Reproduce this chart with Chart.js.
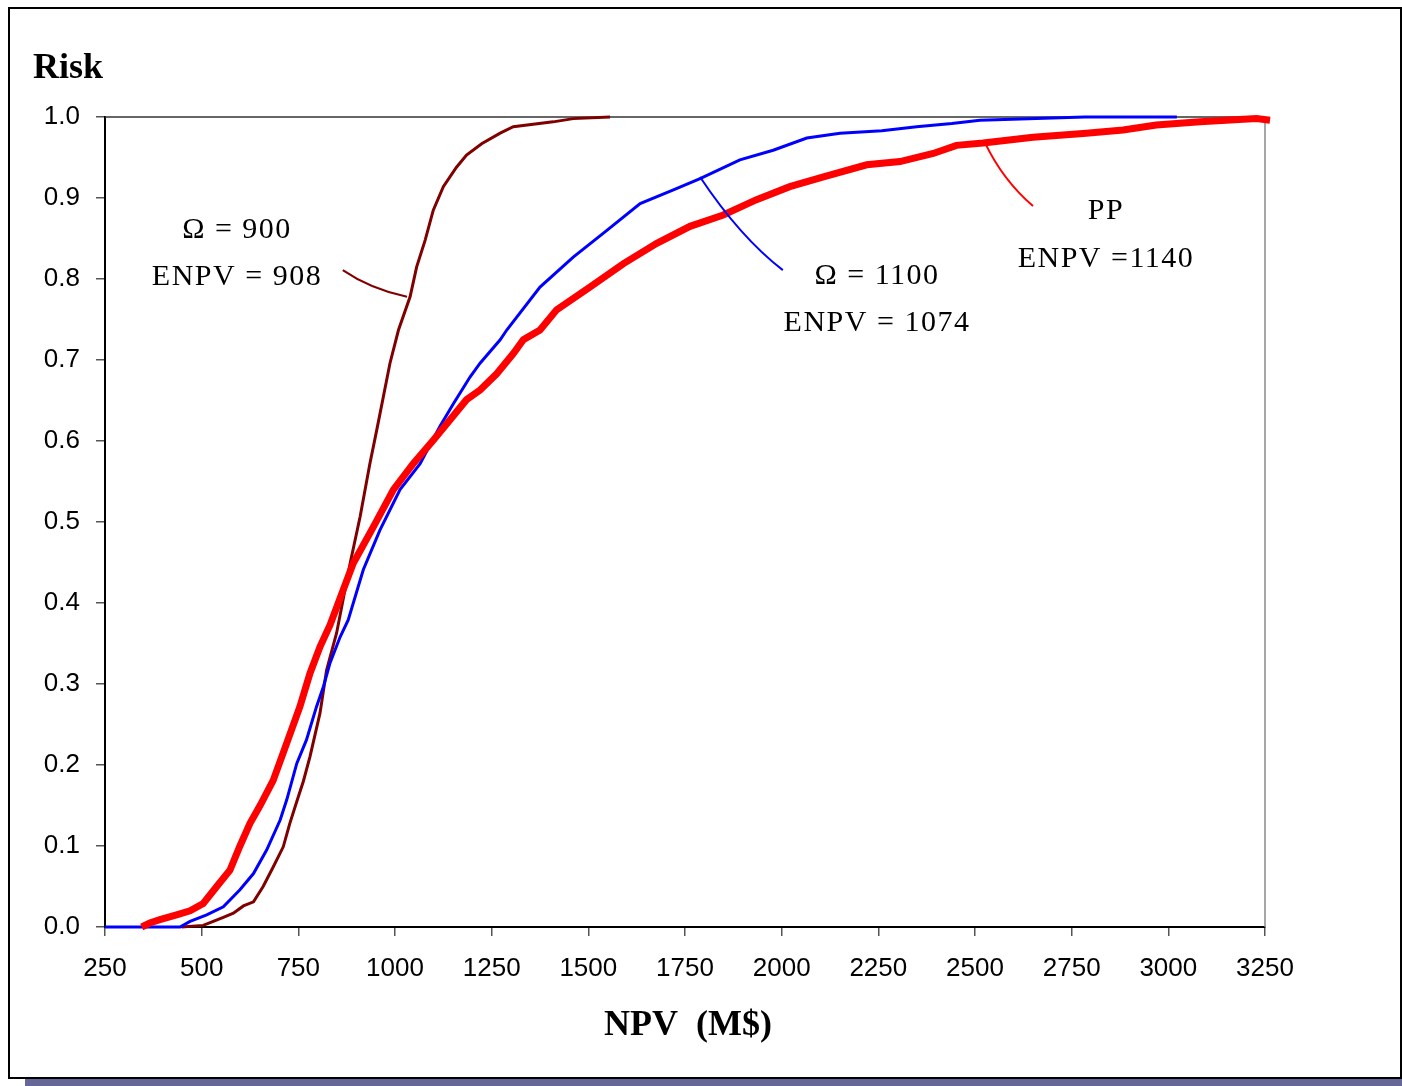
<!DOCTYPE html>
<html>
<head>
<meta charset="utf-8">
<script src="https://cdn.jsdelivr.net/npm/chart.js@4.4.1/dist/chart.umd.min.js"></script>
<style>
  body { margin: 0; background: #fff; }
  #wrap { position: relative; width: 1402px; height: 1086px; overflow: hidden; }
  #frame { position: absolute; left: 8px; top: 7px; width: 1390px; height: 1068px; border: 2px solid #000; pointer-events: none; }
  #shadow { position: absolute; left: 25px; top: 1079px; width: 1377px; height: 7px; background: #666699; }
</style>
</head>
<body>
<div id="wrap">
  <canvas id="riskChart" width="1402" height="1086"></canvas>
  <div id="frame"></div>
  <div id="shadow"></div>
</div>
<script>
// Eixo X (NPV) e eixo Y (risco)
const xTicks = [250, 500, 750, 1000, 1250, 1500, 1750, 2000, 2250, 2500, 2750, 3000, 3250];
const yTicks = [0.0, 0.1, 0.2, 0.3, 0.4, 0.5, 0.6, 0.7, 0.8, 0.9, 1.0];

// Curva Omega = 900 (vinho)
const omega900Npv  = [448, 504, 530, 556, 582, 608, 634, 659, 685, 711, 728, 746, 763, 780, 806, 823, 849, 884, 910, 935, 953, 970, 987, 1009, 1039, 1056, 1078, 1099, 1125, 1159, 1185, 1224, 1272, 1306, 1409, 1461, 1556];
const omega900Risk = [0, 0.002, 0.007, 0.012, 0.017, 0.026, 0.031, 0.05, 0.074, 0.099, 0.128, 0.155, 0.18, 0.21, 0.264, 0.317, 0.363, 0.449, 0.507, 0.572, 0.614, 0.655, 0.696, 0.737, 0.778, 0.815, 0.848, 0.885, 0.914, 0.938, 0.953, 0.967, 0.98, 0.988, 0.994, 0.998, 1.0];

// Curva Omega = 1100 (azul)
const omega1100Npv  = [250, 444, 470, 513, 556, 599, 634, 668, 703, 720, 746, 771, 797, 815, 832, 858, 879, 918, 961, 1013, 1065, 1116, 1151, 1194, 1220, 1272, 1289, 1375, 1461, 1548, 1634, 1720, 1789, 1892, 1978, 2065, 2151, 2259, 2349, 2440, 2513, 2784, 3022];
const omega1100Risk = [0, 0, 0.007, 0.015, 0.025, 0.046, 0.066, 0.095, 0.132, 0.157, 0.202, 0.231, 0.272, 0.297, 0.326, 0.358, 0.379, 0.441, 0.49, 0.54, 0.572, 0.618, 0.646, 0.679, 0.696, 0.725, 0.737, 0.79, 0.827, 0.86, 0.893, 0.91, 0.924, 0.947, 0.959, 0.974, 0.98, 0.983, 0.988, 0.992, 0.996, 1.0, 1.0];

// Curva PP (vermelho)
const ppNpv  = [345, 366, 392, 435, 470, 504, 539, 573, 599, 625, 651, 685, 720, 754, 780, 806, 832, 892, 944, 996, 1047, 1099, 1142, 1185, 1220, 1263, 1306, 1332, 1375, 1418, 1504, 1591, 1677, 1763, 1849, 1935, 2021, 2108, 2220, 2306, 2392, 2452, 2521, 2650, 2788, 2883, 2969, 3082, 3228, 3263];
const ppRisk = [0, 0.005, 0.009, 0.015, 0.02, 0.029, 0.05, 0.07, 0.1, 0.128, 0.15, 0.181, 0.227, 0.272, 0.313, 0.346, 0.373, 0.449, 0.494, 0.54, 0.572, 0.601, 0.626, 0.651, 0.663, 0.683, 0.708, 0.725, 0.737, 0.762, 0.79, 0.819, 0.844, 0.865, 0.879, 0.898, 0.914, 0.926, 0.941, 0.945, 0.955, 0.965, 0.968, 0.975, 0.98, 0.984, 0.99, 0.994, 0.998, 0.996];

// Rótulos e linhas de chamada (em coordenadas de dados)
const labels900  = ['\u03A9 = 900', 'ENPV = 908'];
const labels1100 = ['\u03A9 = 1100', 'ENPV = 1074'];
const labelsPP   = ['PP', 'ENPV =1140'];
const leader900  = [[865, 0.811], [935, 0.788], [1031, 0.778]];
const leader1100 = [[1789, 0.926], [1892, 0.852], [2003, 0.811]];
const leaderPP   = [[2526, 0.968], [2572, 0.922], [2650, 0.890]];

function toPoints(xs, ys) {
  return xs.map((x, i) => ({ x: x, y: ys[i] }));
}

const serif = '"Liberation Serif", "Times New Roman", serif';
const sans = '"Liberation Sans", Arial, sans-serif';

// Plugin para moldura, textos e chamadas
const decorPlugin = {
  id: 'decor',
  beforeDraw(chart) {
    const c = chart.ctx;
    c.save();
    c.fillStyle = '#fff';
    c.fillRect(0, 0, chart.width, chart.height);
    c.restore();
  },
  beforeDatasetsDraw(chart) {
    const c = chart.ctx;
    const a = chart.chartArea;
    c.save();
    c.lineWidth = 1.5;
    c.strokeStyle = '#333';
    c.beginPath();
    c.moveTo(a.left, a.top);
    c.lineTo(a.right, a.top);
    c.stroke();
    c.strokeStyle = '#888';
    c.beginPath();
    c.moveTo(a.right, a.top);
    c.lineTo(a.right, a.bottom);
    c.stroke();
    c.restore();
  },
  afterDatasetsDraw(chart) {
    const c = chart.ctx;
    const xs = chart.scales.x, ys = chart.scales.y;
    const a = chart.chartArea;
    function leader(pts, color) {
      const p = pts.map(q => [xs.getPixelForValue(q[0]), ys.getPixelForValue(q[1])]);
      c.save();
      c.strokeStyle = color;
      c.lineWidth = 2;
      c.beginPath();
      c.moveTo(p[0][0], p[0][1]);
      c.quadraticCurveTo(p[1][0], p[1][1], p[2][0], p[2][1]);
      c.stroke();
      c.restore();
    }
    leader(leader900, '#800000');
    leader(leader1100, '#0000ff');
    leader(leaderPP, '#ff0000');

    function label(lines, cx, y1, y2) {
      c.save();
      c.fillStyle = '#000';
      c.font = '30px ' + serif;
      c.letterSpacing = '1.5px';
      c.textAlign = 'center';
      c.textBaseline = 'alphabetic';
      c.fillText(lines[0], cx, y1);
      c.fillText(lines[1], cx, y2);
      c.restore();
    }
    label(labels900, a.left + 132, a.top + 121, a.top + 168);
    label(labels1100, a.left + 772, a.top + 167, a.top + 214);
    label(labelsPP, a.left + 1001, a.top + 102, a.top + 150);

    c.save();
    c.fillStyle = '#000';
    c.font = 'bold 36px ' + serif;
    c.textAlign = 'left';
    c.fillText('Risk', 33, 78);
    c.textAlign = 'center';
    c.font = 'bold 36px ' + serif;
    c.fillText('NPV  (M$)', 688, 1035);
    c.restore();
  }
};

const ctx = document.getElementById('riskChart').getContext('2d');
const riskChart = new Chart(ctx, {
  type: 'line',
  data: {
    datasets: [
      {
        label: 'PP',
        data: toPoints(ppNpv, ppRisk),
        borderColor: '#ff0000',
        borderWidth: 7,
        pointRadius: 0,
        tension: 0
      },
      {
        label: 'Omega = 1100',
        data: toPoints(omega1100Npv, omega1100Risk),
        borderColor: '#0000ff',
        borderWidth: 3,
        pointRadius: 0,
        tension: 0
      },
      {
        label: 'Omega = 900',
        data: toPoints(omega900Npv, omega900Risk),
        borderColor: '#800000',
        borderWidth: 3,
        pointRadius: 0,
        tension: 0
      }
    ]
  },
  options: {
    responsive: false,
    animation: false,
    parsing: false,
    clip: false,
    layout: { padding: { left: 0, right: 137, top: 117, bottom: 0 } },
    plugins: {
      legend: { display: false },
      tooltip: { enabled: false }
    },
    scales: {
      x: {
        type: 'linear',
        min: xTicks[0],
        max: xTicks[xTicks.length - 1],
        afterBuildTicks: (s) => { s.ticks = xTicks.map(v => ({ value: v })); },
        afterFit: (s) => { s.height = 159; },
        border: { color: '#000', width: 2 },
        grid: { drawOnChartArea: false, tickLength: 9, color: '#555', lineWidth: 1.5 },
        ticks: {
          color: '#000',
          font: { family: sans, size: 26 },
          padding: 17,
          maxRotation: 0,
          callback: (v) => String(v)
        }
      },
      y: {
        type: 'linear',
        min: yTicks[0],
        max: yTicks[yTicks.length - 1],
        afterBuildTicks: (s) => { s.ticks = yTicks.map(v => ({ value: v })); },
        afterFit: (s) => { s.width = 105; },
        border: { color: '#000', width: 2 },
        grid: { drawOnChartArea: false, tickLength: 9, color: '#555', lineWidth: 1.5 },
        ticks: {
          color: '#000',
          font: { family: sans, size: 26 },
          padding: 16,
          callback: (v) => Number(v).toFixed(1)
        }
      }
    }
  },
  plugins: [decorPlugin]
});
</script>
</body>
</html>
